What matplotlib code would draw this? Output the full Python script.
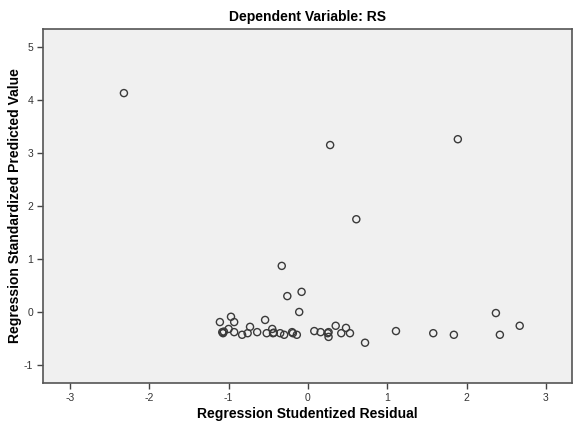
import matplotlib
matplotlib.use('Agg')
import matplotlib.pyplot as plt

plt.rcParams['font.family'] = ['Liberation Sans', 'DejaVu Sans']
plt.rcParams['axes.unicode_minus'] = False

# studentized residuals / standardized predicted values
resid = [-2.32, 1.89, 0.28, 0.61, -0.33, -0.08, -0.26, -0.11,
         2.37, 2.67, 2.42, 1.84, 1.58, 1.11, 0.72,
         -1.11, -0.97, -0.93, -0.54, -1.08, -1.07, -1.06, -1.0, -0.93,
         -0.83, -0.76, -0.73, -0.64, -0.52, -0.45, -0.44, -0.43,
         -0.35, -0.30, -0.20, -0.19, -0.14, 0.08, 0.16, 0.25, 0.26,
         0.26, 0.35, 0.42, 0.48, 0.53]
pred = [4.13, 3.26, 3.15, 1.75, 0.87, 0.38, 0.30, 0.00,
        -0.02, -0.26, -0.43, -0.43, -0.40, -0.36, -0.58,
        -0.19, -0.09, -0.19, -0.15, -0.38, -0.40, -0.37, -0.32, -0.38,
        -0.43, -0.40, -0.28, -0.38, -0.40, -0.32, -0.40, -0.39,
        -0.40, -0.43, -0.38, -0.40, -0.43, -0.36, -0.38, -0.40, -0.38,
        -0.47, -0.26, -0.40, -0.30, -0.40]

xticks = [-3, -2, -1, 0, 1, 2, 3]
yticks = [-1, 0, 1, 2, 3, 4, 5]

fig = plt.figure(figsize=(5.79, 4.26), dpi=100)
ax = fig.add_axes([0.0743, 0.1009, 0.9137, 0.8311])
ax.set_facecolor('#f0f0f0')

ax.scatter(resid, pred, s=26, facecolors='none', edgecolors='#3a3a3a', linewidths=1.0)

ax.set_xlim(-3.34, 3.33)
ax.set_ylim(-1.34, 5.34)
ax.set_xticks(xticks)
ax.set_yticks(yticks)
ax.tick_params(direction='out', length=4, width=1, colors='#444444',
               labelsize=7.5, labelcolor='#333333', pad=3)

for s in ax.spines.values():
    s.set_color('#555555')
    s.set_linewidth(1.2)

ax.set_title('Dependent Variable: RS', fontsize=10, fontweight='bold', pad=6)
ax.set_xlabel('Regression Studentized Residual', fontsize=10, fontweight='bold', labelpad=3)
ax.set_ylabel('Regression Standardized Predicted Value', fontsize=10, fontweight='bold', labelpad=1.5)

fig.savefig('out.png', dpi=100)
